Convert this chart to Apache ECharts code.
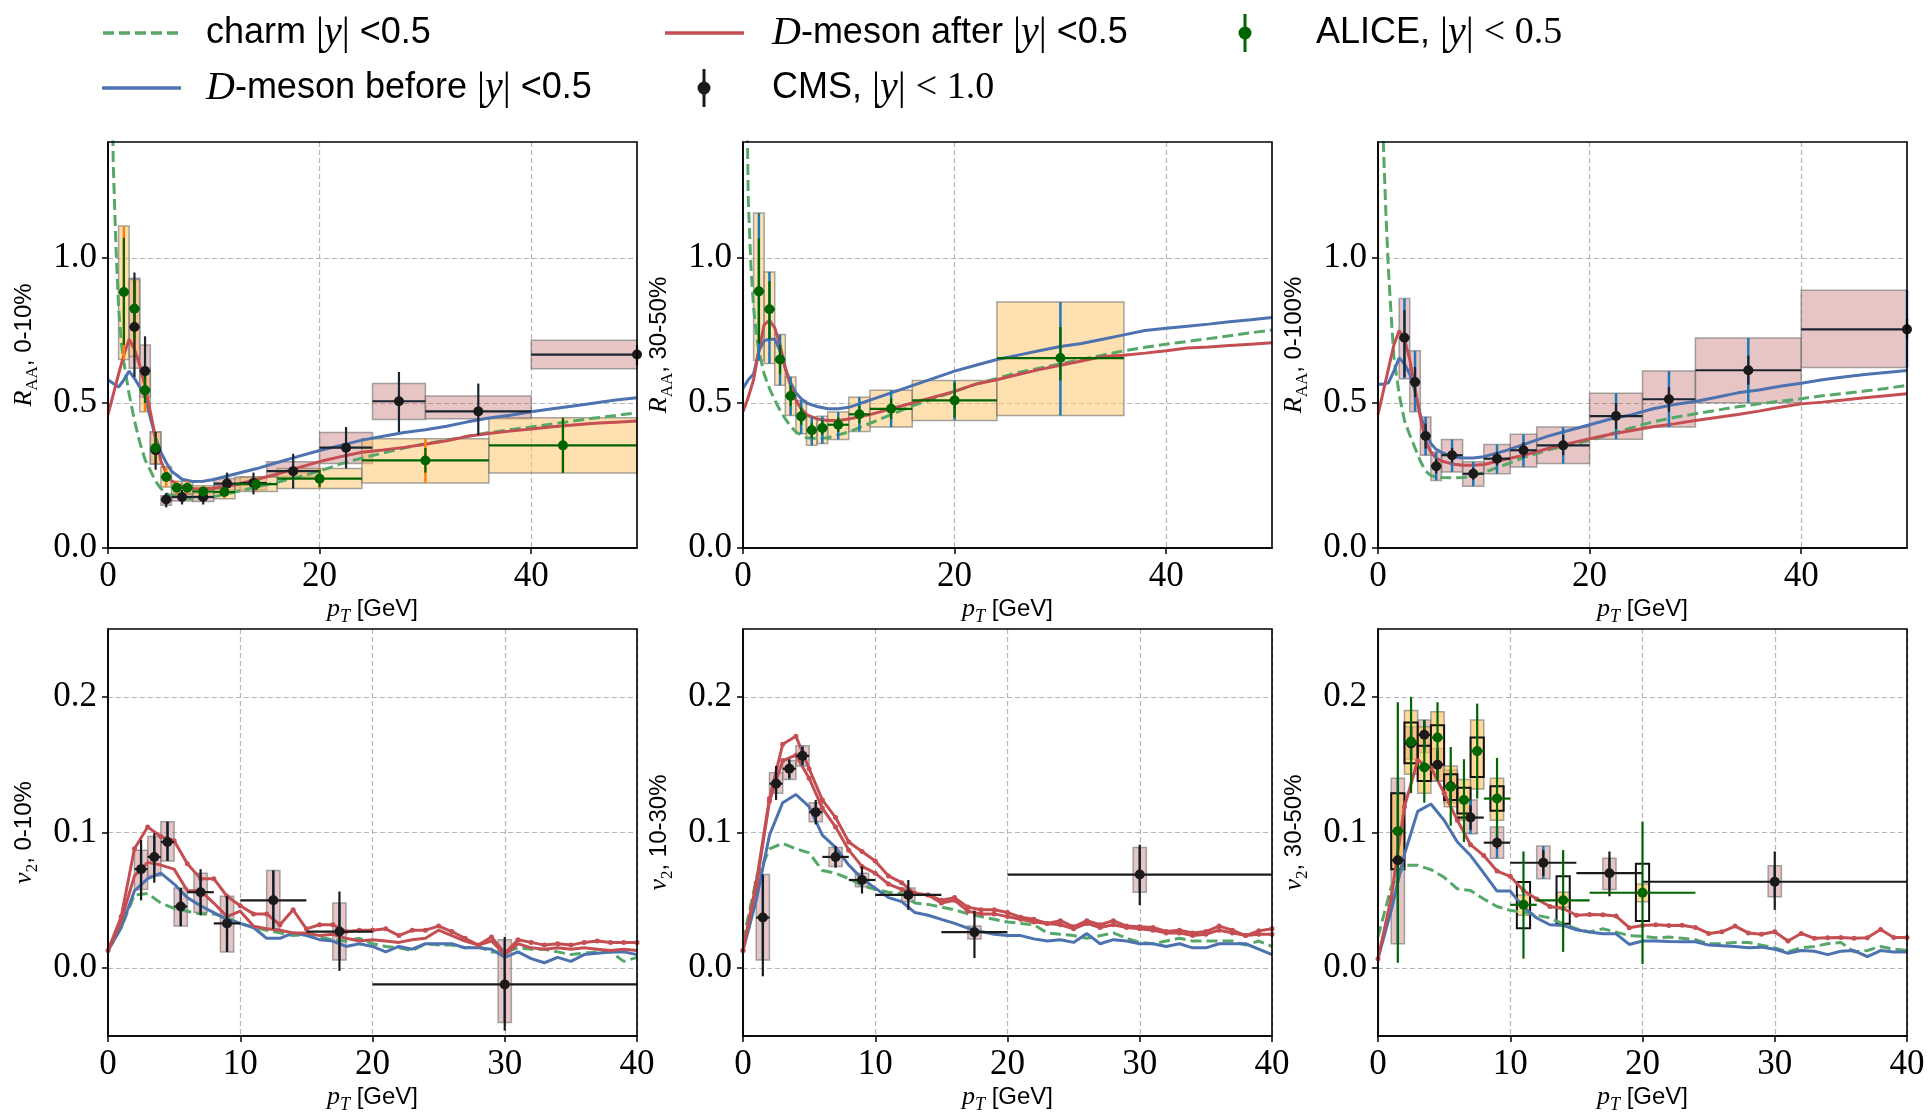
<!DOCTYPE html>
<html><head><meta charset="utf-8">
<script src="https://cdn.jsdelivr.net/npm/echarts@6/dist/echarts.min.js"></script>
<style>html,body{margin:0;padding:0;background:#fff}#chart{width:1929px;height:1114px}</style>
</head><body><div id="chart"></div>
<script>
// ---------------- pT grids ----------------
const raaPt = [0,0.5,1,1.5,2,2.5,3,3.5,4,4.5,5,5.5,6,7,8,9,10,12,14,16,18,20,22,24,26,28,30,32,34,36,38,40,42,44,46,48,50];
const charmPt = [0.35,0.5,0.75,1,1.25,1.5,2,2.5,3,3.5,4,4.5,5,5.5,6,7,8,9,10,12,14,16,18,20,22,24,26,28,30,32,34,36,38,40,42,44,46,48,50];
const v2Pt = [0,1,2,3,4,5,6,7,8,9,10,11,12,13,14,15,16,17,18,19,20,21,22,23,24,25,26,27,28,29,30,31,32,33,34,35,36,37,38,39,40];

// ---------------- R_AA model curves ----------------
const raa010_before = [0.58,0.567,0.555,0.58,0.61,0.585,0.555,0.52,0.45,0.38,0.33,0.295,0.265,0.237,0.229,0.23,0.236,0.255,0.273,0.295,0.316,0.336,0.354,0.372,0.385,0.398,0.408,0.42,0.435,0.448,0.458,0.47,0.48,0.49,0.5,0.51,0.518];
const raa010_after = [0.46,0.53,0.6,0.665,0.72,0.685,0.63,0.56,0.47,0.38,0.3,0.26,0.232,0.212,0.205,0.204,0.206,0.217,0.236,0.255,0.277,0.298,0.315,0.33,0.338,0.347,0.358,0.37,0.385,0.395,0.403,0.41,0.418,0.424,0.43,0.434,0.438];
const raa010_charm = [1.7,1.32,1.04,0.83,0.71,0.64,0.53,0.44,0.365,0.305,0.268,0.23,0.205,0.188,0.18,0.174,0.17,0.172,0.177,0.193,0.21,0.227,0.245,0.265,0.29,0.31,0.328,0.345,0.36,0.372,0.385,0.398,0.408,0.417,0.428,0.438,0.448,0.457,0.466];

const raa3050_before = [0.55,0.58,0.6,0.68,0.715,0.72,0.72,0.68,0.62,0.57,0.535,0.515,0.5,0.488,0.48,0.48,0.485,0.51,0.535,0.56,0.585,0.61,0.63,0.65,0.665,0.68,0.695,0.705,0.72,0.735,0.75,0.758,0.765,0.772,0.78,0.787,0.795];
const raa3050_after = [0.47,0.52,0.58,0.68,0.77,0.785,0.76,0.7,0.62,0.56,0.51,0.48,0.46,0.445,0.44,0.44,0.445,0.46,0.48,0.5,0.52,0.54,0.565,0.58,0.598,0.615,0.63,0.645,0.66,0.665,0.672,0.68,0.69,0.693,0.698,0.703,0.708];
const raa3050_charm = [1.6,1.2,0.97,0.83,0.74,0.68,0.6,0.55,0.51,0.475,0.445,0.42,0.4,0.39,0.38,0.377,0.38,0.39,0.4,0.43,0.46,0.49,0.515,0.54,0.565,0.585,0.605,0.62,0.635,0.65,0.665,0.68,0.692,0.703,0.712,0.722,0.732,0.742,0.752];

const raa0100_before = [0.565,0.565,0.57,0.61,0.655,0.635,0.6,0.54,0.46,0.4,0.36,0.34,0.33,0.315,0.31,0.31,0.315,0.335,0.36,0.385,0.405,0.425,0.445,0.46,0.48,0.495,0.505,0.52,0.535,0.545,0.558,0.568,0.58,0.59,0.598,0.605,0.612];
const raa0100_after = [0.46,0.54,0.62,0.7,0.75,0.72,0.65,0.55,0.45,0.37,0.33,0.31,0.3,0.29,0.285,0.285,0.288,0.305,0.322,0.342,0.36,0.377,0.392,0.405,0.418,0.428,0.44,0.45,0.46,0.472,0.485,0.497,0.503,0.51,0.518,0.525,0.532];
const raa0100_charm = [1.9,1.4,1.15,0.95,0.8,0.66,0.53,0.44,0.39,0.345,0.3,0.265,0.25,0.245,0.243,0.242,0.243,0.25,0.26,0.287,0.315,0.337,0.355,0.371,0.393,0.415,0.435,0.45,0.463,0.475,0.487,0.497,0.506,0.515,0.525,0.533,0.541,0.55,0.561];

// ---------------- v2 model curves ----------------
const v2010_afterA = [0.013,0.038,0.088,0.104,0.097,0.094,0.077,0.066,0.066,0.053,0.046,0.04,0.04,0.032,0.043,0.029,0.032,0.032,0.027,0.028,0.028,0.029,0.024,0.028,0.028,0.031,0.027,0.022,0.017,0.023,0.011,0.021,0.019,0.017,0.018,0.017,0.019,0.02,0.019,0.019,0.019];
const v2010_afterB = [0.013,0.035,0.068,0.078,0.076,0.073,0.057,0.057,0.048,0.038,0.042,0.031,0.029,0.028,0.026,0.026,0.024,0.025,0.022,0.02,0.021,0.02,0.019,0.021,0.022,0.028,0.024,0.02,0.017,0.02,0.01,0.018,0.015,0.014,0.015,0.014,0.015,0.014,0.013,0.014,0.013];
const v2010_before = [0.013,0.03,0.057,0.066,0.07,0.062,0.052,0.046,0.041,0.036,0.033,0.03,0.022,0.022,0.026,0.024,0.021,0.02,0.016,0.018,0.016,0.012,0.016,0.014,0.018,0.018,0.018,0.015,0.015,0.014,0.008,0.012,0.007,0.004,0.008,0.005,0.01,0.011,0.012,0.012,0.01];
const v2010_charm = [0.013,0.03,0.054,0.055,0.048,0.044,0.042,0.04,0.04,0.037,0.033,0.03,0.028,0.026,0.024,0.025,0.023,0.021,0.02,0.022,0.018,0.016,0.015,0.013,0.018,0.017,0.017,0.015,0.016,0.012,0.012,0.015,0.014,0.014,0.012,0.01,0.011,0.012,0.012,0.005,0.008];

const v21030_afterA = [0.013,0.063,0.125,0.165,0.171,0.147,0.124,0.111,0.093,0.086,0.079,0.068,0.063,0.055,0.054,0.05,0.052,0.045,0.043,0.043,0.041,0.0376,0.036,0.033,0.035,0.0305,0.035,0.032,0.035,0.031,0.0305,0.03,0.027,0.028,0.026,0.027,0.031,0.028,0.024,0.0275,0.029];
const v21030_afterB = [0.013,0.06,0.123,0.153,0.157,0.14,0.118,0.104,0.087,0.075,0.07,0.062,0.058,0.055,0.054,0.048,0.05,0.042,0.04,0.04,0.038,0.036,0.034,0.033,0.032,0.029,0.033,0.03,0.032,0.03,0.029,0.028,0.026,0.026,0.024,0.025,0.028,0.026,0.024,0.025,0.025];
const v21030_before = [0.013,0.05,0.098,0.122,0.128,0.119,0.098,0.089,0.076,0.066,0.059,0.052,0.049,0.041,0.039,0.036,0.033,0.0295,0.027,0.025,0.024,0.024,0.0216,0.02,0.021,0.019,0.0255,0.018,0.021,0.02,0.018,0.018,0.016,0.018,0.015,0.015,0.018,0.018,0.018,0.014,0.01];
const v21030_charm = [0.02,0.065,0.088,0.092,0.088,0.085,0.072,0.07,0.066,0.061,0.058,0.056,0.055,0.048,0.047,0.045,0.043,0.04,0.038,0.036,0.034,0.033,0.032,0.026,0.025,0.024,0.022,0.024,0.026,0.022,0.019,0.018,0.02,0.022,0.02,0.02,0.02,0.02,0.017,0.02,0.016];

const v23050_after = [0.007,0.052,0.119,0.153,0.148,0.129,0.109,0.091,0.083,0.0716,0.0677,0.0573,0.051,0.0455,0.044,0.039,0.0396,0.0394,0.0384,0.0298,0.0315,0.032,0.0315,0.0317,0.03,0.0256,0.0268,0.031,0.026,0.025,0.0268,0.02,0.0256,0.022,0.0224,0.0226,0.022,0.0224,0.0285,0.0226,0.0226];
const v23050_before = [0.007,0.0426,0.084,0.1156,0.121,0.109,0.093,0.083,0.07,0.0568,0.0568,0.045,0.037,0.032,0.0315,0.0283,0.0266,0.0253,0.0253,0.0175,0.02,0.02,0.0197,0.0195,0.0195,0.017,0.0165,0.016,0.015,0.0155,0.014,0.011,0.013,0.0125,0.01,0.0125,0.013,0.0085,0.013,0.012,0.012];
const v23050_charm = [0.023,0.06,0.0758,0.0758,0.0726,0.067,0.0585,0.0573,0.051,0.0455,0.0426,0.0413,0.039,0.037,0.0327,0.029,0.0266,0.029,0.0266,0.024,0.0234,0.0224,0.0229,0.022,0.021,0.018,0.018,0.019,0.019,0.017,0.015,0.012,0.015,0.016,0.018,0.019,0.012,0.013,0.016,0.014,0.013];

// ---------------- measurements ----------------
// columns: pT, pT low, pT high, value, stat low, stat high, syst low, syst high
const cmsRaa010 = [
  [2.5,2,3,0.762,0.59,0.95,0.62,0.93],
  [3.5,3,4,0.61,0.54,0.73,0.52,0.70],
  [4.5,4,5,0.337,0.27,0.40,0.29,0.40],
  [5.5,5,6,0.167,0.14,0.19,0.147,0.18],
  [7,6,8,0.176,0.15,0.2,0.162,0.19],
  [9,8,10,0.176,0.15,0.2,0.16,0.19],
  [11.25,10,12.5,0.222,0.18,0.26,0.20,0.24],
  [13.75,12.5,15,0.224,0.185,0.26,0.20,0.245],
  [17.5,15,20,0.265,0.205,0.325,0.245,0.297],
  [22.5,20,25,0.346,0.274,0.417,0.291,0.398],
  [27.5,25,30,0.506,0.40,0.607,0.443,0.567],
  [35,30,40,0.471,0.389,0.567,0.446,0.524],
  [50,40,60,0.667,0.63,0.70,0.618,0.716]
];
const aliceRaa010 = [
  [1.5,1,2,0.883,0.70,1.07,0.65,1.11],
  [2.5,2,3,0.825,0.72,0.92,0.66,0.926],
  [3.5,3,4,0.544,0.50,0.59,0.47,0.62],
  [4.5,4,5,0.345,0.31,0.38,0.29,0.40],
  [5.5,5,6,0.245,0.23,0.26,0.21,0.28],
  [6.5,6,7,0.208,0.195,0.221,0.185,0.23],
  [7.5,7,8,0.208,0.195,0.221,0.185,0.23],
  [9,8,10,0.195,0.18,0.21,0.175,0.215],
  [11,10,12,0.193,0.178,0.208,0.17,0.215],
  [14,12,16,0.22,0.2,0.24,0.195,0.245],
  [20,16,24,0.239,0.21,0.27,0.205,0.274],
  [30,24,36,0.302,0.26,0.345,0.224,0.377],
  [43,36,50,0.354,0.259,0.449,0.259,0.449]
];
const aliceRaa3050 = [
  [1.5,1,2,0.885,0.705,1.067,0.647,1.155],
  [2.5,2,3,0.823,0.72,0.92,0.636,0.952],
  [3.5,3,4,0.65,0.6,0.7,0.561,0.736],
  [4.5,4,5,0.524,0.49,0.56,0.457,0.59],
  [5.5,5,6,0.454,0.425,0.485,0.394,0.509],
  [6.5,6,7,0.406,0.38,0.43,0.354,0.452],
  [7.5,7,8,0.414,0.39,0.44,0.36,0.454],
  [9,8,10,0.425,0.4,0.45,0.374,0.469],
  [11,10,12,0.461,0.43,0.49,0.402,0.52],
  [14,12,16,0.48,0.445,0.515,0.417,0.544],
  [20,16,24,0.509,0.45,0.57,0.44,0.578],
  [30,24,36,0.655,0.578,0.762,0.457,0.848]
];
const cmsRaa0100 = [
  [2.5,2,3,0.725,0.59,0.82,0.584,0.86],
  [3.5,3,4,0.572,0.52,0.624,0.47,0.68],
  [4.5,4,5,0.386,0.343,0.429,0.32,0.452],
  [5.5,5,6,0.282,0.257,0.307,0.233,0.331],
  [7,6,8,0.32,0.295,0.345,0.262,0.374],
  [9,8,10,0.256,0.235,0.277,0.213,0.297],
  [11.25,10,12.5,0.308,0.285,0.331,0.256,0.357],
  [13.75,12.5,15,0.337,0.31,0.364,0.279,0.392],
  [17.5,15,20,0.354,0.32,0.39,0.291,0.417],
  [22.5,20,25,0.455,0.41,0.5,0.375,0.534],
  [27.5,25,30,0.513,0.47,0.555,0.417,0.61],
  [35,30,40,0.613,0.563,0.663,0.501,0.724],
  [50,40,60,0.754,0.72,0.79,0.622,0.889]
];
const cmsV2_010 = [
  [2.5,2,3,0.073,0.050,0.0946,0.058,0.087],
  [3.5,3,4,0.082,0.063,0.0995,0.068,0.097],
  [4.5,4,5,0.093,0.079,0.108,0.079,0.108],
  [5.5,5,6,0.0455,0.031,0.059,0.031,0.059],
  [7,6,8,0.056,0.039,0.073,0.041,0.070],
  [9,8,10,0.033,0.012,0.053,0.012,0.053],
  [12.5,10,15,0.050,0.029,0.072,0.029,0.072],
  [17.5,15,20,0.027,-0.002,0.0565,0.006,0.048],
  [30,20,40,-0.012,-0.046,0.023,-0.040,0.021]
];
const cmsV2_1030 = [
  [1.5,1,2,0.0373,-0.006,0.069,0.006,0.069],
  [2.5,2,3,0.136,0.124,0.149,0.129,0.144],
  [3.5,3,4,0.147,0.140,0.154,0.139,0.153],
  [4.5,4,5,0.1565,0.150,0.163,0.149,0.164],
  [5.5,5,6,0.115,0.106,0.124,0.108,0.122],
  [7,6,8,0.082,0.074,0.090,0.075,0.089],
  [9,8,10,0.065,0.055,0.075,0.060,0.070],
  [12.5,10,15,0.054,0.043,0.065,0.049,0.059],
  [17.5,15,20,0.0265,0.0074,0.0425,0.0215,0.031],
  [30,20,40,0.069,0.0465,0.091,0.056,0.089]
];
const cmsV2_3050 = [
  [1.5,1,2,0.0795,0.06,0.10,0.018,0.14],
  [2.5,2,3,0.1656,0.154,0.178,0.154,0.178],
  [3.5,3,4,0.172,0.162,0.182,0.159,0.183],
  [4.5,4,5,0.15,0.14,0.16,0.138,0.162],
  [5.5,5,6,0.134,0.124,0.144,0.122,0.146],
  [7,6,8,0.111,0.102,0.12,0.099,0.124],
  [9,8,10,0.0925,0.088,0.097,0.081,0.104],
  [12.5,10,15,0.0777,0.068,0.087,0.066,0.09],
  [17.5,15,20,0.070,0.053,0.086,0.058,0.081],
  [30,20,40,0.0637,0.043,0.086,0.0526,0.0755]
];
// columns: pT, pT low, pT high, value, stat low, stat high, syst low, syst high, syst2 low, syst2 high
const aliceV2_3050 = [
  [1.5,1,2,0.101,0.004,0.196,0.073,0.129,0.073,0.129],
  [2.5,2,3,0.167,0.129,0.2,0.143,0.19,0.151,0.181],
  [3.5,3,4,0.148,0.122,0.183,0.129,0.178,0.138,0.164],
  [4.5,4,5,0.17,0.138,0.196,0.138,0.189,0.15,0.179],
  [5.5,5,6,0.1335,0.105,0.163,0.119,0.149,0.124,0.143],
  [6.5,6,7,0.124,0.093,0.154,0.109,0.139,0.114,0.133],
  [7.5,7,8,0.16,0.125,0.195,0.132,0.183,0.141,0.17],
  [9,8,10,0.125,0.097,0.155,0.109,0.14,0.116,0.134],
  [11,10,12,0.0467,0.007,0.086,0.039,0.054,0.0295,0.0635],
  [14,12,16,0.05,0.012,0.087,0.045,0.056,0.0327,0.0677],
  [20,16,24,0.0556,0.003,0.108,0.049,0.062,0.0347,0.077]
];

// ---------------- axes / tick labels ----------------
const raaXTicks = [0,20,40];
const v2XTicks = [0,10,20,30,40];
const raaYTicks = [0,0.5,1.0];
const v2YTicks = [0,0.1,0.2];
const yNames = ['{i|R}{sub|AA}{s|, 0-10%}','{i|R}{sub|AA}{s|, 30-50%}','{i|R}{sub|AA}{s|, 0-100%}',
                '{i|v}{sub|2}{s|, 0-10%}','{i|v}{sub|2}{s|, 10-30%}','{i|v}{sub|2}{s|, 30-50%}'];

// ---------------- style ----------------
const COL = {blue:'#4C72B0', red:'#C44E52', charm:'#55A868', alice:'#006400', cms:'#1a1a1a',
             orange:'#FF7F0E', sysBlue:'#1F77B4', tan:'rgba(255,196,100,0.5)', pink:'rgba(190,95,95,0.36)', edge:'rgba(120,120,120,0.65)'};
const BOX_HALF = 0.5;
const grids = [
  {left:108, top:142, width:529, height:406},
  {left:743, top:142, width:529, height:406},
  {left:1378, top:142, width:529, height:406},
  {left:108, top:629, width:529, height:407},
  {left:743, top:629, width:529, height:407},
  {left:1378, top:629, width:529, height:407}
];
const nameRich = {
  i:{fontFamily:'Liberation Serif', fontStyle:'italic', fontSize:26, lineHeight:34, color:'#000'},
  sub:{fontFamily:'Liberation Serif', fontSize:17, lineHeight:17, verticalAlign:'bottom', color:'#000'},
  subi:{fontFamily:'Liberation Serif', fontStyle:'italic', fontSize:18, lineHeight:18, verticalAlign:'bottom', color:'#000'},
  s:{fontFamily:'Liberation Sans', fontSize:24, lineHeight:34, color:'#000'}
};
const splitStyle = {show:true, lineStyle:{color:'#b5b5b5', width:1.2, type:[5,3]}};

function makeX(i){
  const top = i < 3;
  const ticks = top ? raaXTicks : v2XTicks;
  return {gridIndex:i, type:'value', min:0, max: top ? 50 : 40, interval: ticks[1]-ticks[0],
    name:'{i|p}{subi|T}{s| [GeV]}', nameLocation:'middle', nameGap:44, nameTextStyle:{rich:nameRich},
    axisLine:{show:true, onZero:false, lineStyle:{color:'#000', width:1.5}},
    axisTick:{show:true, inside:false, length:6, customValues:ticks, lineStyle:{color:'#000', width:1.5}},
    axisLabel:{customValues:ticks, fontFamily:'Liberation Serif', fontSize:35, color:'#000', margin:11, formatter:v=>String(v)},
    splitLine:splitStyle};
}
function makeY(i){
  const top = i < 3;
  const ticks = top ? raaYTicks : v2YTicks;
  return {gridIndex:i, type:'value', min: top ? 0 : -0.05, max: top ? 1.4 : 0.25,
    name:yNames[i], nameLocation:'middle', nameRotate:90, nameGap:67, nameTextStyle:{rich:nameRich},
    axisLine:{show:true, onZero:false, lineStyle:{color:'#000', width:1.5}},
    axisTick:{show:true, inside:false, length:6, customValues:ticks, lineStyle:{color:'#000', width:1.5}},
    axisLabel:{customValues:ticks, fontFamily:'Liberation Serif', fontSize:35, color:'#000', margin:11, formatter:v=>v.toFixed(1)},
    splitLine:splitStyle};
}

// ---------------- series builders ----------------
const series = [];
function clipRectOf(cs){ return {x:cs.x, y:cs.y, width:cs.width, height:cs.height}; }
function addCurve(g, xs, ys, color, dashed, dots){
  series.push({type:'line', xAxisIndex:g, yAxisIndex:g, data: xs.map((x,k)=>[x, ys[k]]),
    showSymbol:!!dots, symbol:'circle', symbolSize:5, itemStyle:{color}, clip:true, silent:true, z:3,
    lineStyle:{color, width:3, type: dashed ? [11,5] : 'solid'}});
}
function addBoxes(g, boxes, fill, stroke, lw, z){
  series.push({type:'custom', xAxisIndex:g, yAxisIndex:g, data:boxes, silent:true, z,
    renderItem(params, api){
      const a = api.coord([api.value(0), api.value(3)]);
      const b = api.coord([api.value(1), api.value(2)]);
      const r = echarts.graphic.clipRectByRect(
        {x:Math.min(a[0],b[0]), y:Math.min(a[1],b[1]), width:Math.abs(b[0]-a[0]), height:Math.abs(b[1]-a[1])},
        clipRectOf(params.coordSys));
      if (!r) return;
      return {type:'rect', shape:r, style:{fill, stroke, lineWidth:lw}};
    }});
}
function addVLines(g, lines, color, lw, z){
  series.push({type:'custom', xAxisIndex:g, yAxisIndex:g, data:lines, silent:true, z,
    renderItem(params, api){
      const x = api.value(0);
      const p = echarts.graphic.clipPointsByRect([api.coord([x, api.value(1)]), api.coord([x, api.value(2)])], clipRectOf(params.coordSys));
      return {type:'line', shape:{x1:p[0][0], y1:p[0][1], x2:p[1][0], y2:p[1][1]}, style:{stroke:color, lineWidth:lw}};
    }});
}
function addErr(g, errs, color, lw, z){
  series.push({type:'custom', xAxisIndex:g, yAxisIndex:g, data:errs, silent:true, z,
    renderItem(params, api){
      const cr = clipRectOf(params.coordSys);
      const x = api.value(0), y = api.value(1);
      const h = echarts.graphic.clipPointsByRect([api.coord([api.value(2), y]), api.coord([api.value(3), y])], cr);
      const v = echarts.graphic.clipPointsByRect([api.coord([x, api.value(4)]), api.coord([x, api.value(5)])], cr);
      return {type:'group', children:[
        {type:'line', shape:{x1:h[0][0], y1:h[0][1], x2:h[1][0], y2:h[1][1]}, style:{stroke:color, lineWidth:lw}},
        {type:'line', shape:{x1:v[0][0], y1:v[0][1], x2:v[1][0], y2:v[1][1]}, style:{stroke:color, lineWidth:lw}}
      ]};
    }});
}
function addPoints(g, pts, color){
  series.push({type:'scatter', xAxisIndex:g, yAxisIndex:g, data:pts, symbol:'circle', symbolSize:10,
    itemStyle:{color, opacity:1}, silent:true, z:6});
}
const binBoxes = (rows, lo, hi) => rows.map(r => [r[1], r[2], r[lo], r[hi]]);
const fixBoxes = (rows, lo, hi) => rows.map(r => [r[0]-BOX_HALF, r[0]+BOX_HALF, r[lo], r[hi]]);
const errsOf = rows => rows.map(r => [r[0], r[3], r[1], r[2], r[4], r[5]]);
const ptsOf = rows => rows.map(r => [r[0], r[3]]);
const sysLinesOf = rows => rows.map(r => [r[0], r[6], r[7]]);

// panel 0: R_AA 0-10%
addBoxes(0, binBoxes(cmsRaa010,6,7), COL.pink, COL.edge, 1.5, 1);
addBoxes(0, binBoxes(aliceRaa010,6,7), COL.tan, COL.edge, 1.5, 1);
addCurve(0, charmPt, raa010_charm, COL.charm, true);
addCurve(0, raaPt, raa010_before, COL.blue);
addCurve(0, raaPt, raa010_after, COL.red);
addVLines(0, sysLinesOf(aliceRaa010), COL.orange, 2.5, 4);
addErr(0, errsOf(cmsRaa010), '#1b2530', 2.2, 5);
addErr(0, errsOf(aliceRaa010), COL.alice, 2.2, 5);
addPoints(0, ptsOf(cmsRaa010), COL.cms);
addPoints(0, ptsOf(aliceRaa010), COL.alice);
// panel 1: R_AA 30-50%
addBoxes(1, binBoxes(aliceRaa3050,6,7), COL.tan, COL.edge, 1.5, 1);
addCurve(1, charmPt, raa3050_charm, COL.charm, true);
addCurve(1, raaPt, raa3050_before, COL.blue);
addCurve(1, raaPt, raa3050_after, COL.red);
addVLines(1, sysLinesOf(aliceRaa3050), COL.sysBlue, 2.5, 4);
addErr(1, errsOf(aliceRaa3050), COL.alice, 2.2, 5);
addPoints(1, ptsOf(aliceRaa3050), COL.alice);
// panel 2: R_AA 0-100%
addBoxes(2, binBoxes(cmsRaa0100,6,7), COL.pink, COL.edge, 1.5, 1);
addCurve(2, charmPt, raa0100_charm, COL.charm, true);
addCurve(2, raaPt, raa0100_before, COL.blue);
addCurve(2, raaPt, raa0100_after, COL.red);
addVLines(2, sysLinesOf(cmsRaa0100), COL.sysBlue, 2.5, 4);
addErr(2, errsOf(cmsRaa0100), '#1b2530', 2.2, 5);
addPoints(2, ptsOf(cmsRaa0100), COL.cms);
// panel 3: v2 0-10%
addBoxes(3, fixBoxes(cmsV2_010,6,7), COL.pink, COL.edge, 1.5, 1);
addCurve(3, v2Pt, v2010_charm, COL.charm, true);
addCurve(3, v2Pt, v2010_before, COL.blue);
addCurve(3, v2Pt, v2010_afterB, COL.red);
addCurve(3, v2Pt, v2010_afterA, COL.red, false, true);
addVLines(3, sysLinesOf(cmsV2_010), COL.sysBlue, 2.5, 4);
addErr(3, errsOf(cmsV2_010), COL.cms, 2.2, 5);
addPoints(3, ptsOf(cmsV2_010), COL.cms);
// panel 4: v2 10-30%
addBoxes(4, fixBoxes(cmsV2_1030,6,7), COL.pink, COL.edge, 1.5, 1);
addCurve(4, v2Pt, v21030_charm, COL.charm, true);
addCurve(4, v2Pt, v21030_before, COL.blue);
addCurve(4, v2Pt, v21030_afterB, COL.red, false, true);
addCurve(4, v2Pt, v21030_afterA, COL.red, false, true);
addVLines(4, sysLinesOf(cmsV2_1030), COL.sysBlue, 2.5, 4);
addErr(4, errsOf(cmsV2_1030), COL.cms, 2.2, 5);
addPoints(4, ptsOf(cmsV2_1030), COL.cms);
// panel 5: v2 30-50%
addBoxes(5, fixBoxes(cmsV2_3050,6,7), COL.pink, COL.edge, 1.5, 1);
addBoxes(5, fixBoxes(aliceV2_3050,6,7), 'rgba(255,190,80,0.6)', COL.edge, 1.5, 1);
addBoxes(5, fixBoxes(aliceV2_3050,8,9), 'none', '#111', 2, 1);
addCurve(5, v2Pt, v23050_charm, COL.charm, true);
addCurve(5, v2Pt, v23050_before, COL.blue);
addCurve(5, v2Pt, v23050_after, COL.red, false, true);
addVLines(5, sysLinesOf(cmsV2_3050), COL.sysBlue, 2.5, 4);
addErr(5, errsOf(cmsV2_3050), COL.cms, 2.2, 5);
addErr(5, errsOf(aliceV2_3050), COL.alice, 2.2, 5);
addPoints(5, ptsOf(cmsV2_3050), COL.cms);
addPoints(5, ptsOf(aliceV2_3050), COL.alice);

// ---------------- legend and panel frames (graphic) ----------------
const legRich = {
  mi:{fontFamily:'Liberation Serif', fontStyle:'italic', fontSize:40, fill:'#000'},
  bar:{fontFamily:'Liberation Serif', fontSize:40, fill:'#000'},
  mr:{fontFamily:'Liberation Serif', fontSize:38, fill:'#000'}
};
function legText(x, y, text){
  return {type:'text', x, y, z:100, style:{text, rich:legRich, fontFamily:'Liberation Sans', fontSize:36, fill:'#000', align:'left', verticalAlign:'middle'}};
}
function legLine(x1, x2, y, color, dash){
  return {type:'line', z:100, shape:{x1, y1:y, x2, y2:y}, style:{stroke:color, lineWidth:3.5, lineDash:dash || null}};
}
function legMarker(x, y, color){
  return [{type:'line', z:100, shape:{x1:x, y1:y-19, x2:x, y2:y+19}, style:{stroke:color, lineWidth:3}},
          {type:'circle', z:101, shape:{cx:x, cy:y, r:6.5}, style:{fill:color}}];
}
const frames = grids.map(g => ({type:'rect', z:60, silent:true,
  shape:{x:g.left, y:g.top, width:g.width, height:g.height}, style:{fill:'none', stroke:'#000', lineWidth:1.6}}));
const graphic = [
  ...frames,
  legLine(103, 178, 33, COL.charm, [11,5]),
  legText(206, 33, 'charm {bar||}{mi|y}{bar||} <0.5'),
  legLine(102, 181, 88, COL.blue),
  legText(206, 88, '{mi|D}-meson before {bar||}{mi|y}{bar||} <0.5'),
  legLine(665, 744, 33, COL.red),
  legText(772, 33, '{mi|D}-meson after {bar||}{mi|y}{bar||} <0.5'),
  ...legMarker(704, 88, COL.cms),
  legText(772, 88, 'CMS, {bar||}{mi|y}{bar||} {mr|< 1.0}'),
  ...legMarker(1245, 33, COL.alice),
  legText(1316, 33, 'ALICE, {bar||}{mi|y}{bar||} {mr|< 0.5}')
];

const chart = echarts.init(document.getElementById('chart'), null, {renderer:'canvas', width:1929, height:1114});
chart.setOption({
  animation:false,
  backgroundColor:'#ffffff',
  grid: grids.map(g => Object.assign({}, g, {show:false, containLabel:false, outerBoundsMode:'none'})),
  xAxis:[0,1,2,3,4,5].map(makeX),
  yAxis:[0,1,2,3,4,5].map(makeY),
  series,
  graphic
});
</script></body></html>
